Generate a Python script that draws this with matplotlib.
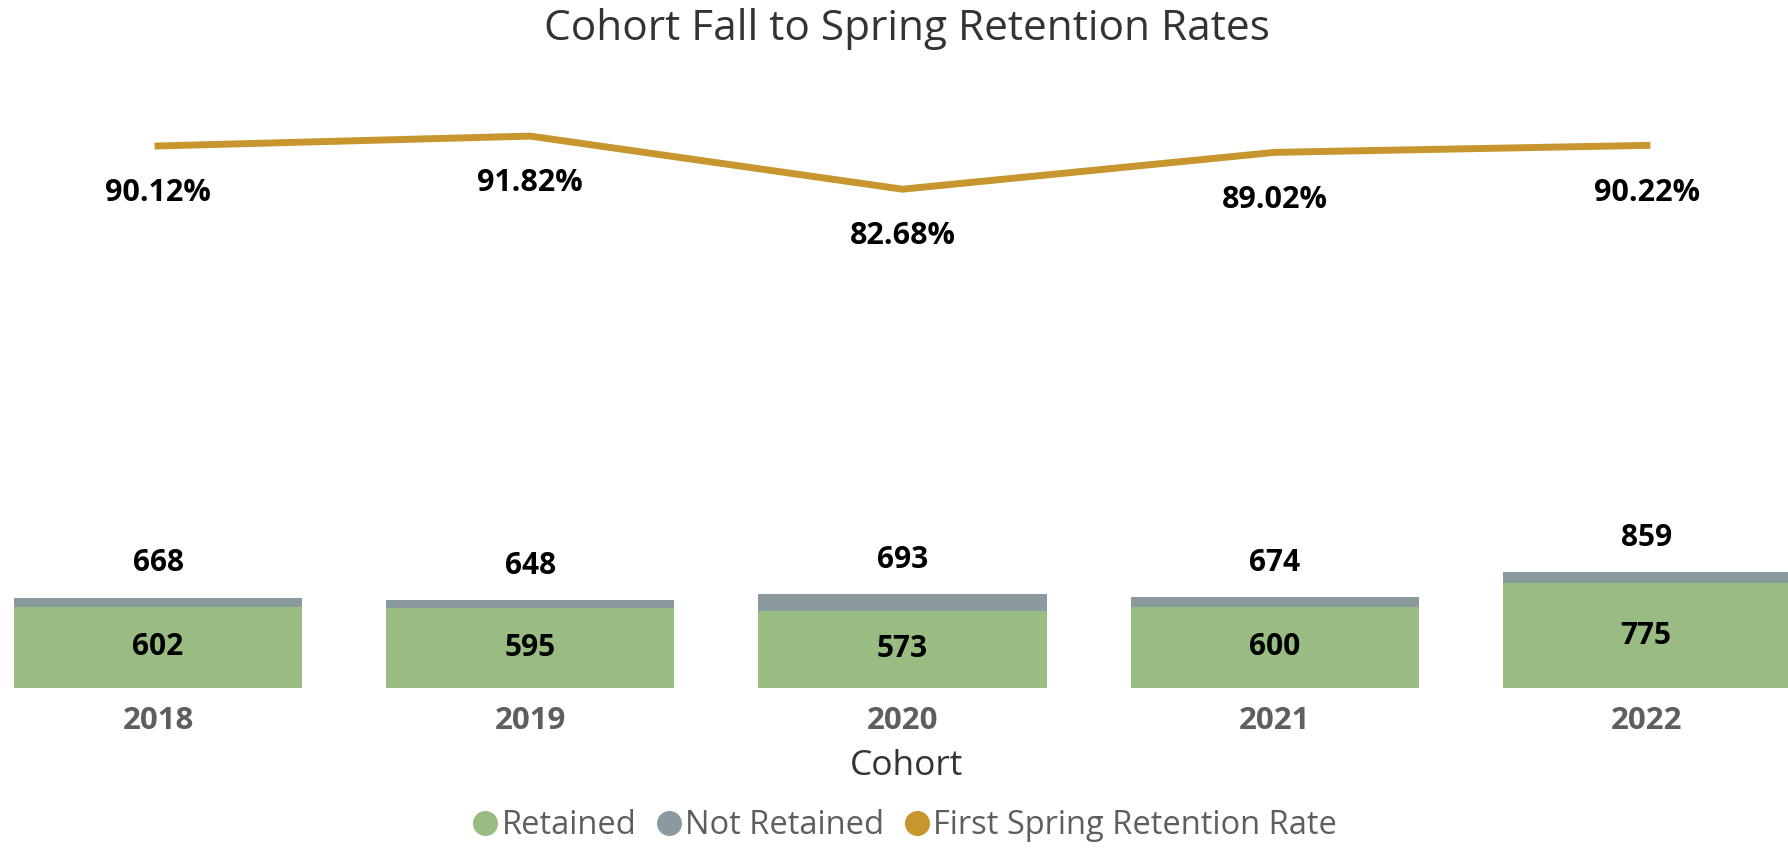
import numpy as np
import matplotlib
matplotlib.use("Agg")
import matplotlib.pyplot as plt
from matplotlib.lines import Line2D

plt.rcParams['font.family'] = ['Open Sans', 'DejaVu Sans']

years = ['2018', '2019', '2020', '2021', '2022']
retained = [602, 595, 573, 600, 775]
totals = [668, 648, 693, 674, 859]
not_retained = [t - r for t, r in zip(totals, retained)]
rates = [90.12, 91.82, 82.68, 89.02, 90.22]

GREEN = '#99BC82'
GRAY = '#8A9A9E'
GOLD = '#C8962E'
TICK = '#605E5C'

fig = plt.figure(figsize=(17.88, 8.49), dpi=100)
ax = fig.add_axes([0, 0.190, 1, 0.692])
x = np.arange(len(years))
width = 0.774

bars_r = ax.bar(x, retained, width, color=GREEN)
bars_n = ax.bar(x, not_retained, width, bottom=retained, color=GRAY)
ax.bar_label(bars_r, labels=[str(v) for v in retained], label_type='center',
             fontsize=21.5, fontweight='bold', color='black')
ax.bar_label(bars_n, labels=[str(v) for v in totals], padding=14,
             fontsize=21.5, fontweight='bold', color='black')

ax.set_xlim(-0.4245, 4.379)
ax.set_ylim(0, 4366)
ax.set_xticks(x)
ax.set_xticklabels(years, fontsize=22.5, fontweight='bold', color=TICK)
ax.tick_params(axis='x', length=0, pad=13)
ax.set_yticks([])
for s in ax.spines.values():
    s.set_visible(False)

ax2 = ax.twinx()
ax2.plot(x, rates, color=GOLD, lw=5, solid_joinstyle='miter')
for xi, r in zip(x, rates):
    ax2.annotate(f'{r:.2f}%', (xi, r), xytext=(0, -34), textcoords='offset points',
                 ha='center', va='center', fontsize=22, fontweight='bold', color='black')
ax2.set_ylim(-3.1, 98.0)
ax2.set_yticks([])
for s in ax2.spines.values():
    s.set_visible(False)

fig.text(0.507, 1 - 28.5 / 849, 'Cohort Fall to Spring Retention Rates',
         ha='center', va='center', fontsize=30.5, color='#333333')
fig.text(0.507, 1 - 766 / 849, 'Cohort', ha='center', va='center',
         fontsize=25.5, color='#333333')

handles = [Line2D([], [], ls='none', marker='o', ms=17, color=c) for c in (GREEN, GRAY, GOLD)]
fig.legend(handles, ['Retained', 'Not Retained', 'First Spring Retention Rate'],
           loc='center', bbox_to_anchor=(0.505, 1 - 825.6 / 849), ncol=3, frameon=False,
           handletextpad=0.0, columnspacing=0.5, handlelength=1.0,
           prop={'size': 23.5}, labelcolor=TICK)

fig.savefig('out.png', dpi=100)
